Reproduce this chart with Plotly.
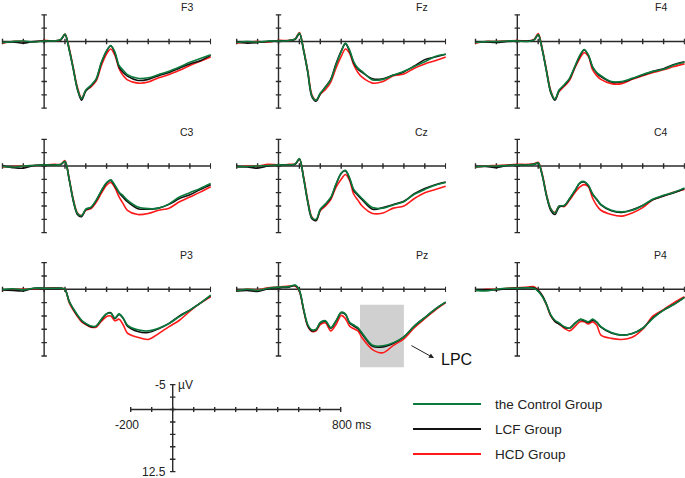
import plotly.graph_objects as go

# ---------------- data (µV, negative plotted up) ----------------
TIMES = [-200, -150, -100, -50, 0, 50, 80, 100, 120, 140, 160, 180, 200, 225, 250,
         275, 300, 320, 340, 360, 380, 400, 450, 500, 550, 600, 650, 700, 750, 800]

ELECTRODES = ["F3", "Fz", "F4", "C3", "Cz", "C4", "P3", "Pz", "P4"]
GROUPS = ["the Control Group", "LCF Group", "HCD Group"]

F3_control = [0.2, 0.0, -0.1, 0.1, -0.1, -0.1, -0.4, -1.4, 1.4, 5.1, 8.9, 10.7, 9.1, 8.2, 7.0, 3.9, 1.7, 0.75, 2.0, 4.5, 5.4, 6.2, 6.9, 6.8, 6.2, 5.6, 4.8, 3.9, 3.2, 2.5]
F3_lcf = [0.2, 0.1, 0.3, 0.0, -0.1, -0.1, -0.3, -1.3, 1.5, 5.2, 9.0, 11.0, 9.3, 8.3, 7.1, 4.0, 1.8, 0.8, 2.2, 4.8, 5.8, 6.5, 7.3, 7.1, 6.4, 5.8, 5.0, 4.2, 3.6, 2.6]
F3_hcd = [0.3, 0.0, 0.0, 0.1, -0.2, -0.1, -0.3, -1.4, 1.2, 4.9, 8.6, 10.6, 9.2, 8.5, 7.4, 4.5, 2.3, 1.4, 2.6, 5.1, 6.4, 7.2, 7.8, 7.6, 6.8, 6.2, 5.4, 4.5, 3.7, 2.9]

Fz_control = [0.2, 0.0, 0.1, -0.1, -0.1, -0.2, -0.5, -1.6, 1.6, 5.6, 10.2, 11.0, 9.7, 8.6, 7.2, 4.4, 1.9, 0.3, 1.6, 3.8, 5.0, 5.6, 7.2, 7.1, 6.3, 5.6, 4.7, 3.8, 2.8, 2.4]
Fz_lcf = [0.1, 0.3, 0.2, 0.0, -0.1, -0.2, -0.4, -1.5, 1.7, 5.8, 10.4, 11.2, 9.8, 8.5, 7.1, 4.2, 1.8, 0.4, 1.8, 4.0, 5.2, 5.8, 7.0, 7.0, 6.3, 5.7, 4.6, 3.4, 2.9, 2.4]
Fz_hcd = [0.3, 0.1, 0.0, 0.1, -0.2, -0.2, -0.5, -1.7, 1.5, 5.5, 10.0, 11.0, 9.9, 9.0, 7.6, 5.0, 2.8, 1.4, 2.2, 4.4, 5.8, 6.7, 7.8, 7.5, 6.4, 6.1, 5.0, 4.2, 3.6, 2.9]

F4_control = [0.2, 0.0, 0.0, -0.1, -0.1, 0.0, -0.3, -1.3, 1.6, 5.6, 9.4, 10.8, 9.1, 8.1, 6.9, 4.7, 2.5, 1.5, 2.5, 4.7, 5.8, 6.4, 7.5, 7.5, 6.9, 6.2, 5.6, 5.2, 4.4, 3.9]
F4_lcf = [0.1, 0.1, 0.2, 0.0, -0.1, -0.1, -0.3, -1.2, 1.7, 5.7, 9.6, 11.0, 9.2, 8.2, 7.0, 4.8, 2.7, 1.6, 2.6, 4.8, 5.9, 6.6, 7.6, 7.6, 7.0, 6.3, 5.6, 5.1, 4.3, 3.8]
F4_hcd = [0.3, 0.0, 0.0, -0.1, -0.2, -0.1, -0.4, -1.5, 1.4, 5.4, 9.2, 10.9, 9.4, 8.4, 7.3, 5.0, 3.1, 2.1, 2.8, 5.3, 6.4, 7.1, 7.9, 7.9, 7.1, 6.4, 5.8, 5.3, 4.7, 4.2]

C3_control = [0.1, 0.2, 0.0, -0.1, -0.2, -0.2, -0.3, -0.9, 2.4, 6.4, 8.9, 9.3, 8.1, 7.7, 6.4, 4.6, 3.1, 2.6, 3.6, 4.9, 5.6, 6.4, 7.7, 8.0, 7.9, 7.1, 5.8, 5.0, 4.2, 3.3]
C3_lcf = [0.0, 0.3, 0.4, -0.1, -0.2, -0.2, -0.3, -0.8, 2.5, 6.6, 9.1, 9.5, 8.2, 7.8, 6.5, 4.7, 3.2, 2.7, 3.8, 5.0, 5.9, 6.7, 8.0, 8.1, 7.9, 7.2, 6.1, 5.4, 4.4, 3.5]
C3_hcd = [0.2, 0.1, 0.0, -0.1, -0.2, -0.3, -0.3, -1.0, 2.3, 6.2, 8.8, 9.3, 8.3, 8.0, 6.8, 5.1, 3.6, 3.1, 4.1, 5.8, 7.1, 8.3, 9.1, 8.9, 8.3, 7.9, 6.7, 5.8, 4.9, 3.9]

Cz_control = [0.2, 0.1, 0.0, -0.1, -0.2, -0.2, -0.4, -1.4, 2.2, 6.6, 9.7, 10.0, 8.1, 7.1, 5.9, 3.4, 1.3, 0.8, 2.2, 4.4, 5.3, 6.1, 7.8, 7.9, 7.3, 6.7, 5.3, 4.4, 3.6, 3.1]
Cz_lcf = [0.1, 0.2, 0.4, 0.0, -0.2, -0.2, -0.3, -1.3, 2.3, 6.8, 9.9, 10.2, 8.2, 7.2, 6.0, 3.5, 1.4, 0.9, 2.4, 4.6, 5.5, 6.3, 8.1, 7.8, 7.2, 6.6, 5.2, 4.2, 3.5, 3.0]
Cz_hcd = [0.2, 0.0, 0.0, -0.3, -0.2, -0.3, -0.4, -1.3, 2.0, 6.4, 9.6, 10.2, 8.4, 7.5, 6.3, 4.0, 2.5, 1.6, 2.7, 5.3, 6.4, 7.5, 8.9, 8.8, 7.9, 7.5, 6.1, 5.0, 4.4, 3.8]

C4_control = [0.2, 0.0, 0.0, -0.1, -0.2, -0.2, -0.3, -0.6, 1.8, 5.5, 8.0, 8.8, 7.5, 7.4, 6.1, 4.6, 3.1, 2.9, 3.6, 5.2, 6.2, 7.2, 8.3, 8.6, 8.3, 7.4, 6.2, 5.5, 4.9, 4.1]
C4_lcf = [0.1, 0.1, 0.3, -0.1, -0.2, -0.2, -0.3, -0.5, 1.9, 5.7, 8.3, 9.1, 7.7, 7.4, 6.2, 4.7, 3.2, 3.0, 3.7, 5.3, 6.3, 7.3, 8.4, 8.7, 8.2, 7.4, 6.3, 5.6, 5.0, 4.2]
C4_hcd = [0.2, 0.0, -0.1, -0.2, -0.3, -0.3, -0.4, -0.7, 1.6, 5.4, 8.0, 8.7, 7.5, 7.6, 6.4, 5.0, 3.9, 3.5, 3.9, 6.0, 7.4, 8.3, 9.1, 9.4, 8.8, 7.8, 6.3, 5.6, 4.9, 4.4]

P3_control = [0.1, -0.1, 0.1, -0.2, -0.2, -0.2, -0.2, 0.0, 2.3, 3.6, 4.8, 5.8, 6.4, 6.9, 6.9, 5.6, 4.6, 4.5, 5.4, 4.6, 5.4, 6.7, 7.6, 7.8, 7.3, 6.4, 5.1, 3.9, 2.6, 1.1]
P3_lcf = [0.1, 0.2, 0.3, -0.2, -0.2, -0.2, -0.2, 0.0, 2.2, 3.7, 4.9, 5.9, 6.5, 7.0, 6.9, 5.7, 4.6, 4.4, 5.5, 4.7, 5.5, 6.9, 7.9, 8.1, 7.4, 6.4, 5.0, 3.9, 2.6, 1.2]
P3_hcd = [0.2, 0.0, 0.0, -0.1, -0.2, -0.3, -0.2, 0.0, 2.5, 3.9, 5.1, 6.1, 6.6, 7.1, 7.1, 6.0, 5.1, 5.0, 5.9, 5.6, 6.7, 8.2, 9.0, 9.4, 8.3, 7.0, 5.8, 4.1, 2.6, 1.4]

Pz_control = [0.3, 0.0, 0.2, -0.2, -0.4, -0.5, -0.8, 0.2, 3.7, 6.6, 7.6, 7.5, 6.2, 5.9, 7.2, 5.9, 4.3, 4.6, 6.2, 6.7, 7.2, 8.2, 10.5, 10.6, 10.0, 8.9, 6.9, 5.3, 3.7, 2.4]
Pz_lcf = [0.3, 0.2, 0.4, -0.1, -0.3, -0.4, -0.7, 0.3, 3.8, 6.8, 7.8, 7.6, 6.3, 6.0, 7.3, 6.0, 4.4, 4.7, 6.3, 6.9, 7.4, 8.4, 10.7, 10.8, 10.1, 8.9, 6.9, 5.3, 3.7, 2.4]
Pz_hcd = [0.3, 0.0, 0.1, -0.3, -0.4, -0.6, -0.6, 0.4, 3.9, 6.9, 7.9, 7.8, 6.6, 6.3, 7.8, 6.6, 4.9, 5.5, 6.9, 7.4, 7.8, 9.1, 11.3, 11.9, 10.5, 9.3, 7.2, 5.5, 3.9, 2.5]

P4_control = [0.2, 0.3, 0.0, -0.2, -0.2, -0.3, -0.2, 0.4, 1.4, 2.9, 4.8, 5.8, 6.3, 7.0, 7.3, 6.5, 5.6, 5.8, 6.1, 5.6, 6.1, 7.0, 8.1, 8.6, 8.3, 7.3, 5.4, 3.9, 2.8, 1.5]
P4_lcf = [0.1, 0.1, 0.1, -0.1, -0.2, -0.3, -0.3, 0.2, 1.2, 2.8, 4.9, 6.0, 6.5, 7.1, 7.3, 6.4, 5.7, 5.9, 6.2, 5.8, 6.2, 7.1, 8.2, 8.6, 8.3, 7.3, 5.3, 3.9, 2.8, 1.5]
P4_hcd = [0.2, 0.0, 0.0, -0.2, -0.3, -0.4, -0.5, 0.2, 1.3, 3.0, 5.0, 6.0, 6.5, 7.3, 7.8, 7.0, 6.1, 6.1, 6.5, 6.1, 6.7, 8.6, 9.2, 9.4, 9.0, 7.5, 5.0, 3.8, 2.5, 1.4]

X_TICKS = [-200, -100, 0, 100, 200, 300, 400, 500, 600, 700, 800]
Y_TICKS = [-5, -2.5, 0, 2.5, 5, 7.5, 10, 12.5]
LPC_WINDOW = [390, 600]

SERIES = {
    "F3": (F3_control, F3_lcf, F3_hcd), "Fz": (Fz_control, Fz_lcf, Fz_hcd), "F4": (F4_control, F4_lcf, F4_hcd),
    "C3": (C3_control, C3_lcf, C3_hcd), "Cz": (Cz_control, Cz_lcf, Cz_hcd), "C4": (C4_control, C4_lcf, C4_hcd),
    "P3": (P3_control, P3_lcf, P3_hcd), "Pz": (Pz_control, Pz_lcf, Pz_hcd), "P4": (P4_control, P4_lcf, P4_hcd),
}

# ---------------- layout geometry (pixels) ----------------
W, H = 685, 478
COLORS = ["#0c7a3c", "#111111", "#ff1a1a"]
AXIS_COLOR = "#2a2a2a"
FONT = "Liberation Sans, Arial, sans-serif"

COL_X0 = [1.7, 236.7, 475.5]     # pixel of -200 ms
ROW_Y0 = [41.5, 166.0, 289.3]    # pixel of 0 µV
PX_MS = 0.209
PX_UV = 5.333
XR = [-212, 802]
YR = [15, -6.5]


def px_dom_x(x0, pxms, xr):
    a = x0 + (xr[0] + 200) * pxms
    b = x0 + (xr[1] + 200) * pxms
    return [max(0, a / W), min(1, b / W)]


def px_dom_y(y0, pxuv, yr):
    top = y0 + yr[1] * pxuv
    bot = y0 + yr[0] * pxuv
    return [max(0, 1 - bot / H), min(1, 1 - top / H)]


def axis_traces(xa, ya, xtick_len, ytick_len):
    xs, ys = [], []
    xs += [X_TICKS[0], X_TICKS[-1], None]
    ys += [0, 0, None]
    xs += [0, 0, None]
    ys += [Y_TICKS[0], Y_TICKS[-1], None]
    for t in X_TICKS:
        xs += [t, t, None]
        ys += [-xtick_len, xtick_len, None]
    for v in Y_TICKS:
        xs += [-ytick_len, ytick_len, None]
        ys += [v, v, None]
    return go.Scatter(x=xs, y=ys, mode="lines", xaxis=xa, yaxis=ya,
                      line=dict(color=AXIS_COLOR, width=1.4), hoverinfo="skip",
                      showlegend=False)


fig = go.Figure()
layout = {}
annotations = []
shapes = []

for i, name in enumerate(ELECTRODES):
    r, c = divmod(i, 3)
    k = i + 1
    xa, ya = f"x{k}", f"y{k}"
    layout[f"xaxis{k}"] = dict(domain=px_dom_x(COL_X0[c], PX_MS, XR), range=XR,
                               visible=False, anchor=ya, fixedrange=True)
    layout[f"yaxis{k}"] = dict(domain=px_dom_y(ROW_Y0[r], PX_UV, YR), range=YR,
                               visible=False, anchor=xa, fixedrange=True)
    fig.add_trace(axis_traces(xa, ya, 0.5, 13))
    ctrl, lcf, hcd = SERIES[name]
    for vals, col, grp in [(hcd, COLORS[2], GROUPS[2]), (lcf, COLORS[1], GROUPS[1]),
                           (ctrl, COLORS[0], GROUPS[0])]:
        fig.add_trace(go.Scatter(x=TIMES, y=vals, mode="lines", xaxis=xa, yaxis=ya,
                                 line=dict(color=col, width=1.6, shape="spline", smoothing=0.9),
                                 name=grp, showlegend=False))
    lx = COL_X0[c] + 185
    ly = ROW_Y0[r] - 34.3
    annotations.append(dict(x=lx / W, y=1 - ly / H, xref="paper", yref="paper",
                            text=name, showarrow=False, xanchor="center", yanchor="middle",
                            font=dict(family=FONT, size=10.5, color="#222")))

# LPC window and arrow on Pz
shapes.append(dict(type="rect", xref="x8", yref="y8", x0=LPC_WINDOW[0], x1=LPC_WINDOW[1],
                   y0=2.9, y1=14.6, fillcolor="#d0d0d0", line=dict(width=0), layer="below"))
annotations.append(dict(x=744, y=12.9, xref="x8", yref="y8", ax=629, ay=10.4,
                        axref="x8", ayref="y8", text="", showarrow=True, arrowhead=2,
                        arrowsize=1, arrowwidth=1, arrowcolor="#222", standoff=0))
annotations.append(dict(x=770, y=13.1, xref="x8", yref="y8", text="LPC", showarrow=False,
                        xanchor="left", yanchor="middle",
                        font=dict(family=FONT, size=16, color="#111")))

# scale bar
SX0, SY0, SPX_MS, SPX_UV = 130.7, 409.5, 0.21, 4.97
SXR, SYR = [-212, 810], [13.5, -6.5]
layout["xaxis10"] = dict(domain=px_dom_x(SX0, SPX_MS, SXR), range=SXR, visible=False,
                         anchor="y10", fixedrange=True)
layout["yaxis10"] = dict(domain=px_dom_y(SY0, SPX_UV, SYR), range=SYR, visible=False,
                         anchor="x10", fixedrange=True)
fig.add_trace(axis_traces("x10", "y10", 0.5, 13))
sfont = dict(family=FONT, size=12, color="#222")
annotations += [
    dict(x=0, y=-5, xref="x10", yref="y10", text="-5", showarrow=False, xanchor="right",
         yanchor="middle", xshift=-5, font=sfont),
    dict(x=0, y=-5, xref="x10", yref="y10", text="µV", showarrow=False, xanchor="left",
         yanchor="middle", xshift=3, font=sfont),
    dict(x=-200, y=0, xref="x10", yref="y10", text="-200", showarrow=False, xanchor="center",
         yanchor="top", xshift=-4, yshift=-6, font=sfont),
    dict(x=800, y=0, xref="x10", yref="y10", text="800 ms", showarrow=False, xanchor="left",
         yanchor="top", xshift=-11, yshift=-6, font=sfont),
    dict(x=0, y=12.5, xref="x10", yref="y10", text="12.5", showarrow=False, xanchor="right",
         yanchor="middle", xshift=-5, font=sfont),
]

# legend
LEG_Y = [404, 429, 454]
for grp, col, ly in zip(GROUPS, COLORS, LEG_Y):
    shapes.append(dict(type="line", xref="paper", yref="paper", x0=413 / W, x1=481 / W,
                       y0=1 - ly / H, y1=1 - ly / H, line=dict(color=col, width=2)))
    annotations.append(dict(x=493 / W, y=1 - ly / H, xref="paper", yref="paper", text=grp,
                            showarrow=False, xanchor="left", yanchor="middle",
                            font=dict(family=FONT, size=13.5, color="#222")))

fig.update_layout(width=W, height=H, margin=dict(l=0, r=0, t=0, b=0),
                  paper_bgcolor="white", plot_bgcolor="white", showlegend=False,
                  annotations=annotations, shapes=shapes, **layout)
fig.write_html("out.html", config={"displayModeBar": False},
               post_script="document.body.style.margin='0px';document.body.style.overflow='hidden';")
